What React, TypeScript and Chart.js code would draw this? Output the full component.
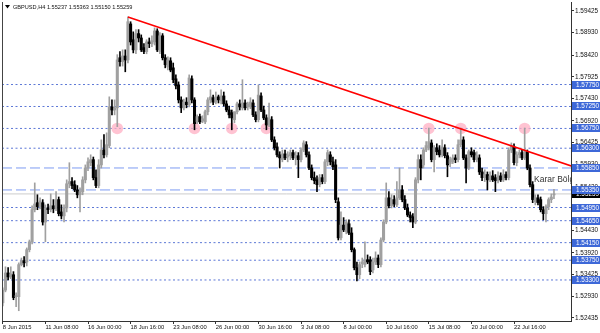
import React, { useEffect, useRef } from 'react';
import { Chart, registerables } from 'chart.js';
Chart.register(...registerables);

const openP = [
  1.5278,1.5307,1.5346,1.5337,1.5342,1.5292,1.5292,1.5365,1.5374,1.5371,
  1.5399,1.5417,1.5490,1.5506,1.5497,1.5506,1.5462,1.5494,1.5490,1.5499,
  1.5492,1.5513,1.5485,1.5476,1.5494,1.5549,1.5554,1.5547,1.5535,1.5524,
  1.5531,1.5558,1.5585,1.5597,1.5604,1.5563,1.5545,1.5592,1.5626,1.5615,
  1.5636,1.5724,1.5717,1.5722,1.5836,1.5827,1.5840,1.5831,1.5913,1.5877,
  1.5854,1.5891,1.5881,1.5859,1.5850,1.5872,1.5868,1.5872,1.5897,1.5850,
  1.5886,1.5836,1.5815,1.5829,1.5813,1.5788,1.5774,1.5740,1.5722,1.5735,
  1.5729,1.5788,1.5740,1.5690,1.5702,1.5692,1.5690,1.5713,1.5740,1.5745,
  1.5735,1.5747,1.5738,1.5749,1.5731,1.5717,1.5711,1.5695,1.5713,1.5731,
  1.5722,1.5733,1.5724,1.5724,1.5733,1.5706,1.5695,1.5749,1.5717,1.5699,
  1.5683,1.5695,1.5649,1.5633,1.5615,1.5604,1.5617,1.5610,1.5613,1.5620,
  1.5608,1.5613,1.5604,1.5626,1.5638,1.5615,1.5585,1.5563,1.5558,1.5547,
  1.5563,1.5554,1.5599,1.5615,1.5599,1.5592,1.5508,1.5426,1.5455,1.5440,
  1.5458,1.5437,1.5399,1.5358,1.5342,1.5367,1.5365,1.5376,1.5376,1.5353,
  1.5371,1.5380,1.5365,1.5421,1.5462,1.5517,1.5499,1.5513,1.5501,1.5517,
  1.5535,1.5513,1.5494,1.5478,1.5474,1.5462,1.5558,1.5604,1.5592,1.5626,
  1.5631,1.5642,1.5604,1.5631,1.5626,1.5615,1.5631,1.5613,1.5595,1.5599,
  1.5608,1.5604,1.5638,1.5649,1.5608,1.5585,1.5622,1.5620,1.5604,1.5608,
  1.5576,1.5563,1.5570,1.5558,1.5567,1.5563,1.5556,1.5567,1.5558,1.5570,
  1.5563,1.5626,1.5633,1.5597,1.5615,1.5620,1.5608,1.5622,1.5585,1.5547,
  1.5508,1.5517,1.5513,1.5490,1.5481,1.5497,1.5513,1.55237
];
const highP = [
  1.5312,1.5360,1.5358,1.5360,1.5349,1.5301,1.5369,1.5380,1.5383,1.5403,
  1.5421,1.5499,1.5551,1.5524,1.5517,1.5513,1.5501,1.5503,1.5526,1.5513,
  1.5531,1.5519,1.5501,1.5501,1.5558,1.5597,1.5563,1.5556,1.5545,1.5540,
  1.5565,1.5592,1.5608,1.5615,1.5610,1.5581,1.5604,1.5649,1.5661,1.5665,
  1.5747,1.5740,1.5740,1.5843,1.5850,1.5854,1.5854,1.5929,1.5918,1.5895,
  1.5900,1.5900,1.5888,1.5868,1.5877,1.5881,1.5886,1.5904,1.5902,1.5893,
  1.5891,1.5843,1.5838,1.5836,1.5824,1.5797,1.5781,1.5747,1.5742,1.5745,
  1.5797,1.5795,1.5745,1.5706,1.5708,1.5704,1.5717,1.5745,1.5763,1.5751,
  1.5758,1.5751,1.5763,1.5758,1.5738,1.5726,1.5717,1.5713,1.5735,1.5740,
  1.5786,1.5740,1.5735,1.5745,1.5740,1.5713,1.5774,1.5756,1.5726,1.5706,
  1.5733,1.5702,1.5656,1.5642,1.5622,1.5626,1.5626,1.5622,1.5626,1.5626,
  1.5622,1.5620,1.5631,1.5647,1.5645,1.5622,1.5592,1.5576,1.5567,1.5570,
  1.5570,1.5604,1.5626,1.5622,1.5610,1.5604,1.5517,1.5485,1.5472,1.5467,
  1.5467,1.5449,1.5403,1.5371,1.5371,1.5380,1.5417,1.5387,1.5383,1.5380,
  1.5394,1.5387,1.5426,1.5467,1.5551,1.5531,1.5524,1.5522,1.5554,1.5585,
  1.5545,1.5522,1.5503,1.5485,1.5481,1.5563,1.5615,1.5615,1.5631,1.5645,
  1.5676,1.5649,1.5636,1.5640,1.5636,1.5649,1.5638,1.5620,1.5610,1.5615,
  1.5615,1.5649,1.5676,1.5656,1.5615,1.5626,1.5631,1.5626,1.5622,1.5615,
  1.5585,1.5581,1.5576,1.5576,1.5579,1.5570,1.5576,1.5574,1.5581,1.5576,
  1.5631,1.5642,1.5640,1.5622,1.5626,1.5626,1.5676,1.5626,1.5592,1.5554,
  1.5524,1.5524,1.5519,1.5497,1.5501,1.5517,1.5526,1.55363
];
const lowP = [
  1.5271,1.5303,1.5330,1.5333,1.5285,1.5269,1.5260,1.5362,1.5360,1.5362,
  1.5394,1.5412,1.5485,1.5490,1.5492,1.5455,1.5417,1.5481,1.5485,1.5483,
  1.5488,1.5476,1.5469,1.5462,1.5485,1.5540,1.5538,1.5531,1.5517,1.5485,
  1.5524,1.5551,1.5579,1.5590,1.5558,1.5540,1.5540,1.5585,1.5608,1.5610,
  1.5631,1.5706,1.5706,1.5679,1.5817,1.5817,1.5804,1.5824,1.5865,1.5847,
  1.5845,1.5872,1.5850,1.5845,1.5845,1.5859,1.5861,1.5865,1.5850,1.5845,
  1.5831,1.5813,1.5808,1.5804,1.5779,1.5765,1.5733,1.5711,1.5717,1.5722,
  1.5724,1.5733,1.5672,1.5686,1.5686,1.5688,1.5686,1.5706,1.5733,1.5729,
  1.5731,1.5733,1.5731,1.5726,1.5713,1.5699,1.5672,1.5688,1.5708,1.5717,
  1.5717,1.5717,1.5717,1.5720,1.5702,1.5690,1.5690,1.5713,1.5695,1.5672,
  1.5679,1.5645,1.5626,1.5610,1.5585,1.5599,1.5604,1.5599,1.5604,1.5604,
  1.5592,1.5563,1.5599,1.5622,1.5610,1.5581,1.5558,1.5549,1.5531,1.5542,
  1.5549,1.5549,1.5590,1.5592,1.5581,1.5506,1.5421,1.5421,1.5440,1.5435,
  1.5433,1.5394,1.5353,1.5328,1.5333,1.5358,1.5360,1.5367,1.5342,1.5346,
  1.5365,1.5358,1.5360,1.5417,1.5458,1.5494,1.5494,1.5497,1.5497,1.5513,
  1.5508,1.5490,1.5474,1.5462,1.5449,1.5458,1.5551,1.5558,1.5585,1.5622,
  1.5626,1.5599,1.5576,1.5615,1.5610,1.5610,1.5608,1.5565,1.5588,1.5595,
  1.5597,1.5599,1.5633,1.5604,1.5551,1.5581,1.5610,1.5599,1.5599,1.5570,
  1.5556,1.5554,1.5535,1.5554,1.5554,1.5531,1.5551,1.5554,1.5554,1.5558,
  1.5558,1.5620,1.5592,1.5590,1.5608,1.5604,1.5604,1.5581,1.5542,1.5506,
  1.5501,1.5501,1.5485,1.5467,1.5462,1.5490,1.5506,1.55150
];
const closeP = [
  1.5307,1.5346,1.5337,1.5344,1.5290,1.5294,1.5365,1.5374,1.5369,1.5399,
  1.5417,1.5490,1.5503,1.5497,1.5510,1.5462,1.5494,1.5490,1.5499,1.5492,
  1.5513,1.5481,1.5476,1.5494,1.5549,1.5554,1.5545,1.5535,1.5524,1.5531,
  1.5558,1.5585,1.5599,1.5604,1.5563,1.5545,1.5592,1.5626,1.5615,1.5638,
  1.5724,1.5717,1.5722,1.5831,1.5827,1.5840,1.5831,1.5918,1.5872,1.5854,
  1.5891,1.5881,1.5854,1.5850,1.5872,1.5868,1.5875,1.5897,1.5854,1.5886,
  1.5836,1.5820,1.5831,1.5808,1.5786,1.5772,1.5740,1.5722,1.5735,1.5729,
  1.5790,1.5740,1.5686,1.5702,1.5690,1.5697,1.5713,1.5740,1.5747,1.5735,
  1.5747,1.5740,1.5749,1.5731,1.5717,1.5706,1.5699,1.5713,1.5731,1.5724,
  1.5733,1.5722,1.5731,1.5735,1.5706,1.5695,1.5751,1.5717,1.5699,1.5683,
  1.5699,1.5649,1.5631,1.5615,1.5608,1.5617,1.5608,1.5615,1.5620,1.5608,
  1.5613,1.5604,1.5626,1.5642,1.5615,1.5585,1.5563,1.5556,1.5547,1.5563,
  1.5554,1.5599,1.5620,1.5599,1.5588,1.5513,1.5426,1.5455,1.5444,1.5462,
  1.5437,1.5399,1.5358,1.5342,1.5365,1.5371,1.5376,1.5371,1.5349,1.5371,
  1.5380,1.5365,1.5421,1.5462,1.5517,1.5499,1.5513,1.5503,1.5517,1.5535,
  1.5513,1.5494,1.5478,1.5472,1.5462,1.5558,1.5604,1.5585,1.5626,1.5636,
  1.5645,1.5604,1.5631,1.5622,1.5615,1.5633,1.5613,1.5592,1.5604,1.5608,
  1.5604,1.5638,1.5649,1.5608,1.5585,1.5622,1.5615,1.5604,1.5613,1.5576,
  1.5563,1.5570,1.5558,1.5567,1.5558,1.5556,1.5567,1.5558,1.5570,1.5563,
  1.5626,1.5636,1.5597,1.5615,1.5620,1.5608,1.5622,1.5585,1.5547,1.5513,
  1.5517,1.5506,1.5490,1.5481,1.5497,1.5513,1.5519,1.55259
];

const xTickLabels = [
  '8 Jun 2015', '11 Jun 08:00', '16 Jun 00:00', '18 Jun 16:00', '23 Jun 08:00',
  '26 Jun 00:00', '30 Jun 16:00', '3 Jul 08:00', '8 Jul 00:00', '10 Jul 16:00',
  '15 Jul 08:00', '20 Jul 00:00', '22 Jul 16:00'
];
const barsPerXTick = 16;
const yTickValues = [
  1.59425, 1.5893, 1.5842, 1.57925, 1.5743, 1.5692, 1.56425, 1.5593,
  1.5542, 1.5493, 1.5443, 1.5392, 1.53425, 1.5293, 1.52435
];
const dottedLevels = [1.5775, 1.5725, 1.5675, 1.563, 1.5495, 1.5465, 1.5415, 1.5375, 1.533];
const dashedLevels = [1.5585, 1.5535];
const currentPrice = 1.55259;
const trendPoints = [{ x: 47, y: 1.5929 }, { x: 214.2, y: 1.5588 }];
const markerBars = [43, 72, 86, 99, 160, 172, 196];
const markerPrice = 1.5675;
const zoneText = 'Karar Bölgesi';
const zoneBar = 199.5;
const zonePrice = 1.5558;
const titleText = 'GBPUSD,H4 1.55237 1.55363 1.55150 1.55259';

const X_MIN = -0.3;
const X_MAX = 213.4;
const Y_MIN = 1.52366;
const Y_MAX = 1.59629;

const FONT = '"Liberation Sans", Arial, sans-serif';
const BULL = '#a0a0a0';
const BEAR = '#000000';
const BOX_BLUE = '#3d68d8';

export default function App() {
  const ref = useRef<HTMLCanvasElement | null>(null);

  useEffect(() => {
    document.body.style.margin = '0';
    const canvas = ref.current;
    if (!canvas) return;
    const idx = openP.map((_, i) => i);
    const colors = idx.map((i) => (closeP[i] >= openP[i] ? BULL : BEAR));

    const levelSet = (vals: number[], color: string, dash: number[]) =>
      vals.map((v) => ({
        type: 'line' as const,
        data: [{ x: X_MIN, y: v }, { x: X_MAX, y: v }],
        borderColor: color,
        borderWidth: 1,
        borderDash: dash,
        pointRadius: 0,
        order: 10,
      }));

    const overlay = {
      id: 'mtOverlay',
      beforeDraw(chart: any) {
        const { ctx, width, height } = chart;
        ctx.save();
        ctx.fillStyle = '#ffffff';
        ctx.fillRect(0, 0, width, height);
        ctx.restore();
      },
      afterDatasetsDraw(chart: any) {
        const { ctx, chartArea: a, scales } = chart;
        ctx.save();
        ctx.beginPath();
        ctx.rect(a.left, a.top, a.right - a.left, a.bottom - a.top);
        ctx.clip();
        ctx.font = `8.5px ${FONT}`;
        ctx.fillStyle = '#333333';
        ctx.textBaseline = 'middle';
        ctx.textAlign = 'left';
        ctx.fillText(zoneText, scales.x.getPixelForValue(zoneBar), scales.y.getPixelForValue(zonePrice));
        ctx.restore();
      },
      afterDraw(chart: any) {
        const { ctx, chartArea: a, scales, width } = chart;
        ctx.save();
        ctx.strokeStyle = '#444444';
        ctx.lineWidth = 1;
        ctx.beginPath();
        ctx.moveTo(a.left + 0.5, a.top);
        ctx.lineTo(a.left + 0.5, a.bottom);
        ctx.stroke();
        // title
        ctx.fillStyle = '#000000';
        ctx.beginPath();
        ctx.moveTo(a.left + 3, a.top + 3);
        ctx.lineTo(a.left + 8, a.top + 3);
        ctx.lineTo(a.left + 5.5, a.top + 6.5);
        ctx.closePath();
        ctx.fill();
        ctx.font = `5.6px ${FONT}`;
        ctx.fillStyle = '#111111';
        ctx.textBaseline = 'middle';
        ctx.textAlign = 'left';
        ctx.fillText(titleText, a.left + 11, a.top + 5);
        // price boxes
        ctx.font = `6.4px ${FONT}`;
        const box = (v: number, bg: string) => {
          const py = scales.y.getPixelForValue(v);
          ctx.fillStyle = bg;
          ctx.fillRect(a.right + 1, Math.round(py) - 4, width - a.right - 1, 8);
          ctx.fillStyle = '#ffffff';
          ctx.fillText(v.toFixed(5), a.right + 5, Math.round(py) + 0.5);
        };
        box(currentPrice, '#000000');
        [...dottedLevels, ...dashedLevels].forEach((v) => box(v, BOX_BLUE));
        ctx.restore();
      },
    };

    const chart = new Chart(canvas, {
      type: 'bar',
      data: {
        datasets: [
          {
            type: 'line',
            data: trendPoints,
            borderColor: '#ff0000',
            borderWidth: 1.6,
            pointRadius: 0,
            order: 0,
          },
          {
            type: 'bar',
            data: idx.map((i) => ({ x: i, y: [openP[i], closeP[i]] })),
            backgroundColor: colors,
            barThickness: 2.4,
            minBarLength: 1,
            grouped: false,
            order: 1,
          },
          {
            type: 'bar',
            data: idx.map((i) => ({ x: i, y: [lowP[i], highP[i]] })),
            backgroundColor: colors,
            barThickness: 1,
            grouped: false,
            order: 2,
          },
          {
            type: 'scatter',
            data: markerBars.map((b) => ({ x: b, y: markerPrice })),
            backgroundColor: 'rgba(255, 175, 195, 0.75)',
            borderWidth: 0,
            pointRadius: 5.8,
            order: 3,
          },
          {
            type: 'line',
            data: [{ x: X_MIN, y: currentPrice }, { x: X_MAX, y: currentPrice }],
            borderColor: '#cccccc',
            borderWidth: 1,
            pointRadius: 0,
            order: 9,
          },
          ...levelSet(dottedLevels, '#5d78d6', [2, 2.5]),
          ...levelSet(dashedLevels, '#7e9bf2', [10, 4]),
        ] as any,
      },
      options: {
        animation: false,
        responsive: false,
        devicePixelRatio: 1,
        layout: { autoPadding: false, padding: { left: 2, top: 2, right: 0, bottom: 0 } },
        plugins: { legend: { display: false }, tooltip: { enabled: false } },
        events: [],
        scales: {
          x: {
            type: 'linear',
            min: X_MIN,
            max: X_MAX,
            offset: false,
            grid: { offset: false, drawOnChartArea: false, drawTicks: true, tickLength: 3, color: '#333333' },
            border: { display: true, color: '#333333' },
            afterBuildTicks: (s: any) => {
              s.ticks = xTickLabels.map((_, k) => ({ value: k * barsPerXTick }));
            },
            afterFit: (s: any) => {
              s.height = 12;
              s.paddingLeft = 0;
              s.paddingRight = 0;
            },
            ticks: {
              autoSkip: false,
              maxRotation: 0,
              align: 'start',
              padding: 0,
              color: '#111111',
              font: { family: FONT, size: 5.8 },
              callback: (_v: any, i: number) => xTickLabels[i],
            },
          },
          y: {
            type: 'linear',
            position: 'right',
            min: Y_MIN,
            max: Y_MAX,
            grid: { drawOnChartArea: false, drawTicks: true, tickLength: 3, color: '#333333' },
            border: { display: true, color: '#333333' },
            afterBuildTicks: (s: any) => {
              s.ticks = yTickValues.map((v) => ({ value: v }));
            },
            afterFit: (s: any) => {
              s.width = 29;
              s.paddingTop = 0;
              s.paddingBottom = 0;
            },
            ticks: {
              padding: 1,
              color: '#111111',
              font: { family: FONT, size: 6.4 },
              callback: (v: any) => Number(v).toFixed(5),
            },
          },
        },
      } as any,
      plugins: [overlay],
    });
    return () => chart.destroy();
  }, []);

  return (
    <div style={{ width: 600, height: 333 }}>
      <canvas ref={ref} width={600} height={333} style={{ display: 'block' }} />
    </div>
  );
}
